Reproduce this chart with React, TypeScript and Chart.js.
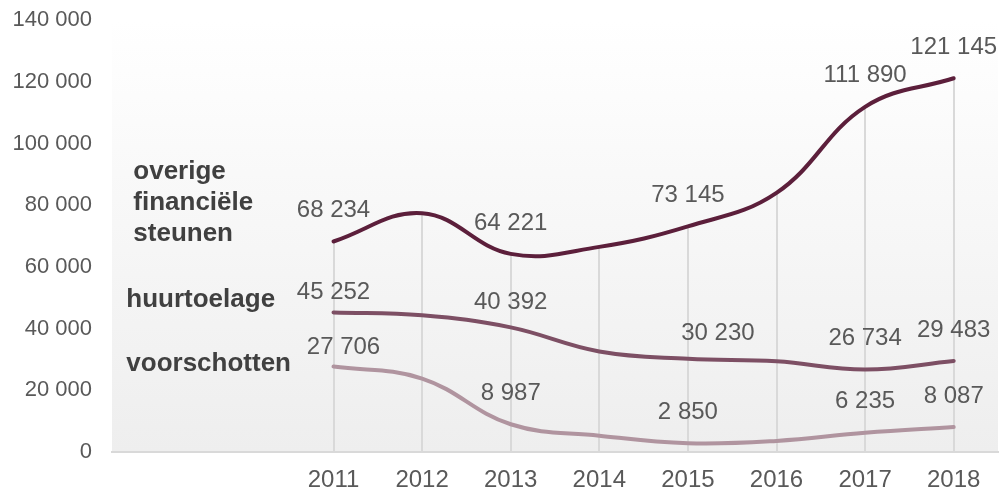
import React, { useEffect, useRef } from "react";
import { Chart, registerables } from "chart.js";

Chart.register(...registerables);

const categories = ["", "", "2011", "2012", "2013", "2014", "2015", "2016", "2017", "2018"];
const overige = [null, null, 68234, 77400, 64221, 66500, 73145, 84000, 111890, 121145];
const huurtoelage = [null, null, 45252, 44300, 40392, 32600, 30230, 29400, 26734, 29483];
const voorschotten = [null, null, 27706, 23800, 8987, 5300, 2850, 3600, 6235, 8087];
const seriesNames = ["overige financiële steunen", "huurtoelage", "voorschotten"];
const labelledYears = ["2011", "2013", "2015", "2017", "2018"];
const yTicks = [0, 20000, 40000, 60000, 80000, 100000, 120000, 140000];

const fmt = (v: number) => String(Math.round(v)).replace(/\B(?=(\d{3})+(?!\d))/g, " ");

const FONT = "'Liberation Sans', Arial, sans-serif";

// nudges for some value labels: key "datasetIndex-categoryIndex" -> [dx, dy]
const nudges: Record<string, [number, number]> = {
  "1-2": [0, 11],
  "2-2": [10, 12],
  "1-4": [0, 6],
  "1-6": [30, 6],
};

const bgPlugin = {
  id: "bgGradient",
  beforeDraw(chart: any) {
    const { ctx, chartArea } = chart;
    const g = ctx.createLinearGradient(0, chartArea.top, 0, chartArea.bottom);
    g.addColorStop(0, "#ffffff");
    g.addColorStop(1, "#eeeeee");
    ctx.save();
    ctx.fillStyle = g;
    ctx.fillRect(chartArea.left, chartArea.top, chartArea.right - chartArea.left, chartArea.bottom - chartArea.top);
    ctx.restore();
  },
};

const dropLinesPlugin = {
  id: "dropLines",
  beforeDatasetsDraw(chart: any) {
    const { ctx, scales } = chart;
    const x = scales.x;
    const y = scales.y;
    ctx.save();
    ctx.strokeStyle = "#d9d9d9";
    ctx.lineWidth = 2;
    for (let i = 0; i < categories.length; i++) {
      const vals = chart.data.datasets.map((d: any) => d.data[i]).filter((v: any) => v != null);
      if (!vals.length) continue;
      const maxV = Math.max(...vals);
      const px = Math.round(x.getPixelForValue(i));
      ctx.beginPath();
      ctx.moveTo(px, y.getPixelForValue(maxV));
      ctx.lineTo(px, y.getPixelForValue(0));
      ctx.stroke();
    }
    ctx.restore();
  },
};

const labelsPlugin = {
  id: "valueLabels",
  afterDatasetsDraw(chart: any) {
    const { ctx, scales } = chart;
    const x = scales.x;
    const y = scales.y;
    ctx.save();
    ctx.font = `24px ${FONT}`;
    ctx.fillStyle = "#595959";
    ctx.textAlign = "center";
    ctx.textBaseline = "middle";
    chart.data.datasets.forEach((ds: any, di: number) => {
      ds.data.forEach((v: any, i: number) => {
        if (v == null || !labelledYears.includes(categories[i])) return;
        const n = nudges[`${di}-${i}`] || [0, 0];
        ctx.fillText(fmt(v), x.getPixelForValue(i) + n[0], y.getPixelForValue(v) - 32 + n[1] + 1);
      });
    });
    // series names
    ctx.font = `bold 26px ${FONT}`;
    ctx.fillStyle = "#404040";
    ctx.textAlign = "left";
    const left = x.getPixelForValue(0);
    const nameLines = [
      { lines: ["overige", "financiële", "steunen"], value: 81000, dx: -23 },
      { lines: [seriesNames[1]], value: 49600, dx: -30 },
      { lines: [seriesNames[2]], value: 28800, dx: -30 },
    ];
    nameLines.forEach((n) => {
      const cy = y.getPixelForValue(n.value);
      const lh = 31;
      const start = cy - ((n.lines.length - 1) * lh) / 2;
      n.lines.forEach((l, k) => ctx.fillText(l, left + n.dx, start + k * lh + 1));
    });
    ctx.restore();
  },
};

export default function App() {
  const ref = useRef<HTMLCanvasElement>(null);
  useEffect(() => {
    const mk = (label: string, data: any[], color: string) => ({
      label,
      data,
      borderColor: color,
      backgroundColor: color,
      borderWidth: 4,
      pointRadius: 0,
      tension: 0.4,
      fill: false,
      borderCapStyle: "round",
    });
    const chart = new Chart(ref.current!, {
      type: "line",
      data: {
        labels: categories,
        datasets: [
          mk(seriesNames[0], overige, "#5c1f3b"),
          mk(seriesNames[1], huurtoelage, "#7d4f64"),
          mk(seriesNames[2], voorschotten, "#b0949f"),
        ],
      },
      options: {
        animation: false,
        responsive: false,
        layout: { padding: { top: 20, right: 10, left: 0, bottom: 0 } },
        plugins: { legend: { display: false }, tooltip: { enabled: false } },
        scales: {
          x: {
            offset: true,
            grid: { display: false, drawTicks: false },
            border: { display: true, color: "#d9d9d9", width: 2 },
            ticks: { color: "#595959", font: { family: FONT, size: 24 }, padding: 14, maxRotation: 0, autoSkip: false },
            afterFit: (s: any) => { s.height = 43; },
          },
          y: {
            min: 0,
            max: 140000,
            grid: { display: false, drawTicks: false },
            border: { display: false },
            afterBuildTicks: (s: any) => { s.ticks = yTicks.map((v) => ({ value: v })); },
            ticks: { color: "#595959", font: { family: FONT, size: 22, lineHeight: 0.01 }, padding: 20, callback: (v: any) => fmt(Number(v)) },
            afterFit: (s: any) => { s.width = 112; },
          },
        },
      },
      plugins: [bgPlugin, dropLinesPlugin, labelsPlugin],
    } as any);
    return () => chart.destroy();
  }, []);
  return (
    <div style={{ position: "fixed", left: 0, top: 0, width: 1008, height: 495, background: "#fff" }}>
      <canvas ref={ref} width={1008} height={495} style={{ display: "block" }} />
    </div>
  );
}
